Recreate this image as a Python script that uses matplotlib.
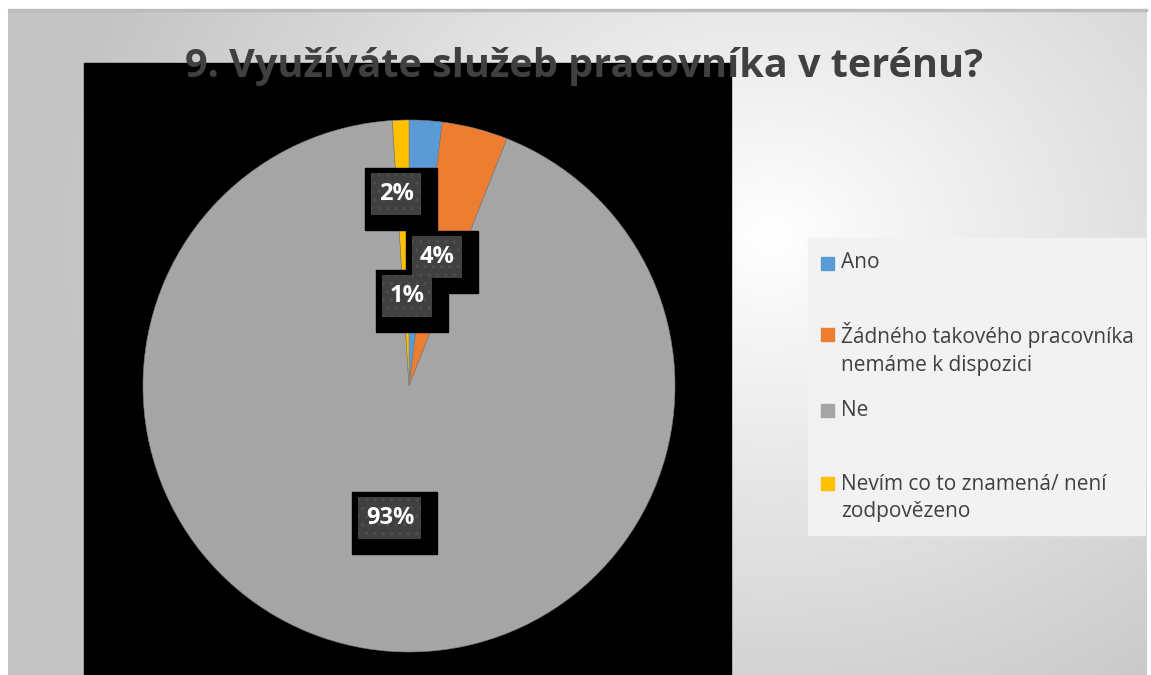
import numpy as np
import matplotlib.pyplot as plt
from matplotlib.patches import Rectangle

W, H = 1151, 675

title = "9. Využíváte služeb pracovníka v terénu?"
categories = ["Ano", "Žádného takového pracovníka\nnemáme k dispozici", "Ne",
              "Nevím co to znamená/ není\nzodpovězeno"]
values = [2, 4, 93, 1]
colors = ["#5b9bd5", "#ed7d31", "#a5a5a5", "#ffc000"]

# label centres (pixels from top-left), in the same order as values
label_pos = [(396, 194), (437, 257), (390, 518), (407, 296)]
legend_y = [263, 349, 410, 498]

fig = plt.figure(figsize=(W / 100, H / 100), dpi=100)
fig.patch.set_facecolor("white")
ax = fig.add_axes([0, 0, 1, 1])

# slide background: radial grey gradient, brightest right of centre
yy, xx = np.mgrid[0:H, 0:W]
d = np.hypot((xx - 770) / 600.0, (yy - 230) / 500.0)
shade = 1.0 - 0.23 * np.clip(d, 0, 1.2) / 1.2
bg = np.dstack([shade] * 3)
ax.imshow(bg, extent=(8, W - 4, 0, H - 9), origin="upper", zorder=0, aspect="auto")
ax.add_patch(Rectangle((8, H - 11), W - 12, 2, color="#bdbdbd", zorder=1))

# black plot area
ax.add_patch(Rectangle((84, 0), 731 - 84, H - 63, color="black", zorder=1))

cx, cy, R = 409, H - 386, 266
wedges, _ = ax.pie(values, colors=colors, startangle=90, counterclock=False,
                   center=(cx, cy), radius=R, frame=True,
                   wedgeprops=dict(linewidth=0.4, edgecolor="#7f7f7f"))
for w in wedges:
    w.set_zorder(2)

ax.set_xlim(0, W)
ax.set_ylim(0, H)
ax.set_aspect("auto")
ax.axis("off")

# data labels: black backing box with a dark dotted panel
for v, (px, py) in zip(values, label_pos):
    txt = f"{v}%"
    iw = 50 if len(txt) < 3 else 63
    ih = 42
    x0 = px - iw / 2
    y0 = H - py - ih / 2
    ax.add_patch(Rectangle((x0 - 6, y0 - 15), iw + 22, ih + 20, color="black", zorder=3))
    ax.add_patch(Rectangle((x0, y0), iw, ih, facecolor="#404040", edgecolor="#4e4e4e",
                           hatch="..", linewidth=0, zorder=4))
    ax.text(px, H - py, txt, ha="center", va="center", color="white",
            fontsize=17, fontweight="bold", family="Open Sans", zorder=5)

# legend
ax.add_patch(Rectangle((808, H - 535), 1145 - 808, 535 - 238, color="#f2f2f2", zorder=3))
for lab, col, ly in zip(categories, colors, legend_y):
    first = ly if "\n" not in lab else ly - 15
    ax.add_patch(Rectangle((821, H - first - 7), 13, 13, color=col, zorder=4))
    ax.text(841, H - ly, lab, ha="left", va="center", color="#404040",
            fontsize=15, family="Open Sans", linespacing=1.4, zorder=4)

ax.text(584, H - 66, title, ha="center", va="center", color="#404040",
        fontsize=28.5, fontweight="bold", family=["Liberation Sans Narrow", "Open Sans"],
        zorder=6)

fig.savefig("out.png", dpi=100)
